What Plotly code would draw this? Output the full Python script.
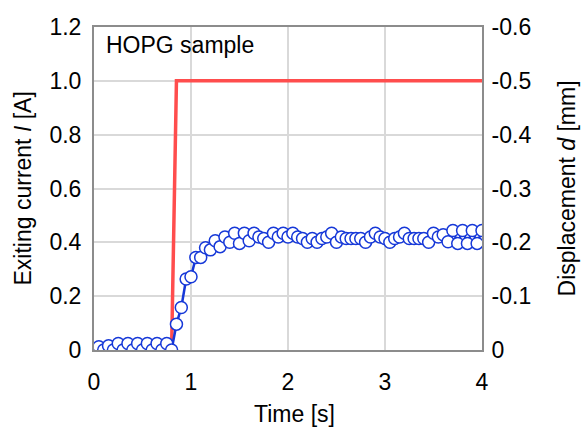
import plotly.graph_objects as go

# ---- data ----
time_s = [round(i * 0.05, 2) for i in range(81)]

exiting_current_A = [0.0] * 17 + [1.0] * 64  # 0..0.8 s -> 0, 0.85..4.0 s -> 1

displacement_mm = [
    0.0, -0.006, 0.0, -0.008, 0.0, -0.012, 0.0, -0.012, 0.0, -0.012,
    0.0, -0.012, 0.0, -0.012, 0.0, -0.012, 0.0,
    -0.048, -0.079, -0.132, -0.136, -0.172, -0.172, -0.19, -0.186, -0.203,
    -0.192, -0.21, -0.2, -0.217, -0.198, -0.217, -0.203,
    -0.217, -0.21, -0.207, -0.2, -0.217, -0.21, -0.217, -0.21, -0.217, -0.21,
    -0.207, -0.2, -0.207, -0.2, -0.207, -0.21, -0.217, -0.2, -0.21, -0.207,
    -0.207, -0.207, -0.207, -0.2, -0.21, -0.217, -0.21, -0.207, -0.2, -0.207,
    -0.21, -0.217, -0.207, -0.207, -0.207, -0.207, -0.2, -0.217, -0.21, -0.214,
    -0.201, -0.222, -0.198, -0.222, -0.198, -0.222, -0.198, -0.222,
]

left_ticks = [0, 0.2, 0.4, 0.6, 0.8, 1.0, 1.2]
left_ticktext = ["0", "0.2", "0.4", "0.6", "0.8", "1.0", "1.2"]
right_ticks = [0, -0.1, -0.2, -0.3, -0.4, -0.5, -0.6]
right_ticktext = ["0", "-0.1", "-0.2", "-0.3", "-0.4", "-0.5", "-0.6"]
x_ticks = [0, 1, 2, 3, 4]

FONT = "Liberation Sans, Arial, sans-serif"
FS = 23
AXIS_COLOR = "#8c8c8c"
GRID_COLOR = "#d9d9d9"

fig = go.Figure()
fig.add_trace(go.Scatter(
    x=time_s, y=exiting_current_A, mode="lines",
    line=dict(color="#ff4d4d", width=3.5), yaxis="y", showlegend=False,
))
fig.add_trace(go.Scatter(
    x=time_s, y=displacement_mm, mode="lines+markers",
    line=dict(color="#1638d8", width=2.5),
    marker=dict(symbol="circle", size=12, color="white",
                line=dict(color="#1638d8", width=1.5)),
    yaxis="y2", showlegend=False,
))

fig.update_layout(
    width=583, height=429,
    margin=dict(l=94, r=101, t=27, b=79),
    paper_bgcolor="white", plot_bgcolor="white",
    font=dict(family=FONT, size=FS, color="black"),
    xaxis=dict(
        range=[0, 4], tickvals=x_ticks, showgrid=True, gridcolor=GRID_COLOR,
        gridwidth=2, showline=True, linecolor=AXIS_COLOR, linewidth=2,
        mirror=True, ticks="", zeroline=False, ticklabelstandoff=10,
        automargin=False,
    ),
    yaxis=dict(
        range=[0, 1.2], tickvals=left_ticks, ticktext=left_ticktext,
        showgrid=True, gridcolor=GRID_COLOR, gridwidth=2,
        showline=True, linecolor=AXIS_COLOR, linewidth=2, ticks="",
        zeroline=False, ticklabelstandoff=6, automargin=False,
    ),
    yaxis2=dict(
        range=[0, -0.6], tickvals=right_ticks, ticktext=right_ticktext,
        overlaying="y", side="right", showgrid=False,
        showline=True, linecolor=AXIS_COLOR, linewidth=2, ticks="",
        zeroline=False, ticklabelstandoff=3, automargin=False,
    ),
    annotations=[
        dict(text="HOPG sample", xref="paper", yref="paper", x=0.026, y=0.944,
             xanchor="left", yanchor="middle", showarrow=False),
        dict(text="Time [s]", xref="paper", yref="paper", x=0.518, y=-0.198,
             xanchor="center", yanchor="middle", showarrow=False),
        dict(text="Exiting current <i>I</i> [A]", xref="paper", yref="paper",
             x=-0.183, y=0.5, xanchor="center", yanchor="middle",
             textangle=-90, showarrow=False),
        dict(text="Displacement <i>d</i> [mm]", xref="paper", yref="paper",
             x=1.219, y=0.5, xanchor="center", yanchor="middle",
             textangle=-90, showarrow=False),
    ],
)

fig.write_html(
    "out.html",
    config={"displayModeBar": False},
    post_script="document.body.style.margin='0';document.body.style.padding='0';",
)
